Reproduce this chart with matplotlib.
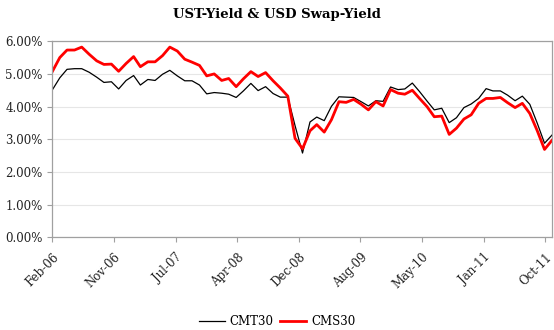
import pandas as pd
import numpy as np
import matplotlib
matplotlib.use("Agg")
import matplotlib.pyplot as plt
import matplotlib.dates as mdates
from matplotlib.ticker import PercentFormatter

# month-end yields in %, Feb 2006 .. Oct 2011
dates = pd.date_range("2006-02-28", periods=69, freq="ME")

cmt30 = [4.51, 4.88, 5.14, 5.16, 5.16, 5.05, 4.90, 4.74, 4.76, 4.54, 4.80, 4.95,
         4.66, 4.83, 4.80, 4.99, 5.11, 4.94, 4.79, 4.79, 4.66, 4.39, 4.43, 4.41,
         4.38, 4.28, 4.48, 4.71, 4.49, 4.61, 4.40, 4.29, 4.29, 3.42, 2.58, 3.53,
         3.68, 3.57, 4.01, 4.30, 4.29, 4.28, 4.15, 4.02, 4.18, 4.16, 4.60, 4.52,
         4.54, 4.72, 4.46, 4.17, 3.90, 3.95, 3.51, 3.66, 3.97, 4.08, 4.25, 4.55,
         4.48, 4.48, 4.35, 4.18, 4.32, 4.07, 3.49, 2.88, 3.13]

cms30 = [5.07, 5.50, 5.73, 5.73, 5.82, 5.60, 5.40, 5.29, 5.30, 5.08, 5.32, 5.53,
         5.22, 5.37, 5.37, 5.56, 5.82, 5.70, 5.45, 5.36, 5.26, 4.94, 5.00, 4.80,
         4.86, 4.61, 4.85, 5.07, 4.92, 5.04, 4.79, 4.57, 4.32, 3.03, 2.71, 3.26,
         3.45, 3.22, 3.60, 4.15, 4.13, 4.22, 4.07, 3.90, 4.15, 4.02, 4.52, 4.41,
         4.38, 4.50, 4.25, 4.00, 3.69, 3.71, 3.15, 3.34, 3.62, 3.75, 4.10, 4.25,
         4.25, 4.28, 4.12, 3.97, 4.10, 3.79, 3.26, 2.69, 2.97]

tick_dates = ["2006-02-28", "2006-11-10", "2007-07-24", "2008-04-05", "2008-12-16",
              "2009-08-28", "2010-05-11", "2011-01-21", "2011-10-03"]
tick_labels = ["Feb-06", "Nov-06", "Jul-07", "Apr-08", "Dec-08",
               "Aug-09", "May-10", "Jan-11", "Oct-11"]

plt.rcParams["font.family"] = "DejaVu Serif"

fig = plt.figure(figsize=(5.54, 3.30), dpi=100)
ax = fig.add_axes([0.0944, 0.2806, 0.902, 0.5945])

ax.plot(dates, cmt30, color="black", lw=0.9, label="CMT30")
ax.plot(dates, cms30, color="#ff0000", lw=2.0, label="CMS30")

ax.set_xlim(dates[0], dates[-1])
ax.set_ylim(0, 6)
ax.set_yticks(np.arange(0, 7, 1))
ax.yaxis.set_major_formatter(PercentFormatter(decimals=2))
ax.grid(axis="y", color="#e6e6e6", lw=0.8)
ax.set_axisbelow(True)

ax.set_xticks(pd.to_datetime(tick_dates))
ax.set_xticklabels(tick_labels, rotation=45, ha="right", va="top",
                   rotation_mode="anchor")

for s in ax.spines.values():
    s.set_color("#a0a0a0")
    s.set_linewidth(0.9)
ax.tick_params(axis="both", colors="#a0a0a0", labelcolor="#222222",
               labelsize=8.5, length=3.5)
ax.tick_params(axis="x", pad=6)

fig.text(0.5, 0.955, "UST-Yield & USD Swap-Yield", ha="center", va="center",
         fontsize=9.5, fontweight="bold")

fig.legend(loc="center", bbox_to_anchor=(0.5, 0.025), ncol=2, frameon=False,
           fontsize=8.5, handlelength=2.2, columnspacing=0.6, handletextpad=0.4)

fig.savefig("out.png", dpi=100)
